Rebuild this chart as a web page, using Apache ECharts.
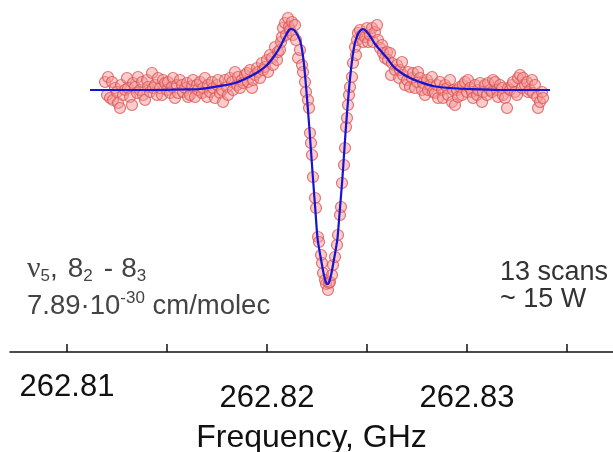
<!DOCTYPE html>
<html>
<head>
<meta charset="utf-8">
<script src="https://cdn.jsdelivr.net/npm/echarts@6/dist/echarts.min.js"></script>
<style>
html,body{margin:0;padding:0;background:#fff;}
#c{width:613px;height:452px;}
</style>
</head>
<body>
<div id="c"></div>
<script>
// Measured points: frequency (GHz) and intensity (arb. units, baseline = 0)
var measFreq = [
262.8119,262.812,262.81205,262.81215,262.81225,262.8123,262.8124,262.8125,262.81255,262.81265,
262.8127,262.8128,262.8129,262.813,262.81305,262.81315,262.81325,262.8133,262.8134,262.8135,
262.81355,262.81365,262.81375,262.8138,262.8139,262.814,262.81405,262.81415,262.81425,262.8143,
262.8144,262.8145,262.81455,262.81465,262.81475,262.8148,262.8149,262.815,262.81505,262.81515,
262.81525,262.8153,262.8154,262.8155,262.81555,262.81565,262.81575,262.8158,262.8159,262.816,
262.81605,262.81615,262.81625,262.8163,262.8164,262.8165,262.81655,262.81665,262.81675,262.8168,
262.8169,262.817,262.81705,262.81715,262.81725,262.8173,262.8174,262.8175,262.81755,262.81765,
262.81775,262.8178,262.8179,262.818,262.81805,262.81815,262.81825,262.8183,262.8184,262.8185,
262.81855,262.81865,262.81875,262.8188,262.8189,262.819,262.81905,262.81915,262.81925,262.8193,
262.8194,262.8195,262.81955,262.81965,262.81975,262.8198,262.8199,262.82,262.82005,262.82015,
262.82025,262.8203,262.8204,262.8205,262.82055,262.82065,262.8207,262.82075,262.8208,262.8209,
262.82095,262.82105,262.8211,262.82115,262.82125,262.8213,262.8214,262.82145,262.82155,262.82165,
262.82175,262.8218,262.8219,262.82195,262.82205,262.8221,262.82215,262.8222,262.82225,262.8223,
262.8224,262.82245,262.82255,262.8226,262.8227,262.82275,262.8228,262.8229,262.82295,262.82305,
262.8231,262.82315,262.82325,262.8233,262.8234,262.8235,262.82355,262.82365,262.8237,262.82375,
262.82385,262.8239,262.82395,262.824,262.82405,262.8241,262.82415,262.82425,262.8243,262.8244,
262.82445,262.8245,262.82455,262.82465,262.82475,262.8248,262.8249,262.825,262.82505,262.82515,
262.82525,262.8253,262.8254,262.8255,262.82555,262.82565,262.82575,262.8258,262.8259,262.826,
262.82605,262.82615,262.8262,262.82625,262.8264,262.8265,262.8266,262.82665,262.82675,262.8268,
262.8269,262.827,262.82705,262.82715,262.82725,262.8273,262.8274,262.8275,262.82755,262.82765,
262.82775,262.8278,262.8279,262.828,262.82805,262.82815,262.82825,262.8283,262.8284,262.8285,
262.82855,262.82865,262.82875,262.8288,262.8289,262.829,262.82905,262.82915,262.82925,262.8293,
262.8294,262.8295,262.82955,262.82965,262.82975,262.8298,262.8299,262.83,262.83005,262.83015,
262.83025,262.8303,262.8304,262.8305,262.83055,262.83065,262.83075,262.8308,262.8309,262.831,
262.83105,262.83115,262.83125,262.8313,262.8314,262.8315,262.83155,262.83165,262.83175,262.8318,
262.8319,262.832,262.83205,262.83215,262.83225,262.8323,262.8324,262.8325,262.83255,262.83265,
262.83275,262.8328,262.8329,262.833,262.83305,262.83315,262.83325,262.8333,262.8334,262.8335,
262.83355,262.83365,262.83375,262.8338
];
var measInt = [
8,-5,13,-8,8,-10,2,-2,-13,-18,
5,-5,0,12,2,-7,-15,7,3,-3,
13,0,8,-5,-10,10,3,-2,17,2,
5,-5,12,2,-5,10,7,0,8,-3,
3,12,-8,5,-3,10,5,-2,2,7,
-7,-5,4,10,-7,5,0,8,-3,2,
12,-7,5,-2,8,2,-8,5,10,-3,
0,-12,10,3,-5,12,8,0,18,5,
13,2,10,7,15,17,8,20,2,10,
15,22,18,12,27,20,23,30,18,35,
32,25,43,30,38,40,48,53,62,67,
55,72,63,60,68,55,65,50,32,40,
25,18,8,-2,-10,-18,-43,-53,-65,-87,
-108,-118,-147,-152,-165,-173,-183,-190,-194,-200,
-193,-192,-185,-175,-167,-155,-145,-125,-117,-93,
-75,-58,-37,-28,-15,-5,3,13,27,43,
35,50,57,60,55,48,53,62,48,55,
62,48,58,65,50,42,45,37,32,38,
30,37,15,27,20,25,12,20,28,15,
5,10,18,3,12,17,2,8,18,12,
0,7,-5,10,0,5,13,-2,-3,5,
-8,8,0,-8,5,2,-5,10,-12,0,
-15,0,-7,3,-5,5,8,-2,10,2,
-2,-8,5,-5,0,7,-12,-2,5,-5,
7,0,-2,10,8,0,-7,5,2,-5,
-8,-18,2,0,5,8,-2,-5,12,15,
2,12,5,8,-2,0,10,-3,5,-7,
-18,-12,-2,-8
];
// Fitted line profile
var fitFreq = [
262.81115,262.81415,262.81565,262.81665,262.81765,262.8184,262.819,262.81955,262.82,262.8204,
262.82065,262.8209,262.8211,262.8212,262.82135,262.821525,262.821675,262.821825,262.821975,262.822125,
262.822275,262.822425,262.822525,262.822625,262.822725,262.822825,262.822925,262.823025,262.823125,262.823225,
262.823325,262.823425,262.823525,262.823625,262.823775,262.823925,262.824075,262.824225,262.824375,262.824525,
262.82465,262.8248,262.82495,262.82515,262.8254,262.82565,262.826,262.8263,262.82665,262.82715,
262.82765,262.8283,262.82915,262.83,262.83165,262.83415
];
var fitInt = [
0,0,0.5,1,4,7,12,18,25,35,
43,53,60,61,60,55,48,30,-2,-40,
-82,-122,-148,-161,-172,-183,-191,-194,-191,-183,
-172,-161,-148,-124,-87,-43,-5,25,45,55,
59,61,59,54,46,40,32,24,18,12,
8,4,2,1,0,0
];
var tickValues = [262.81, 262.815, 262.82, 262.825, 262.83, 262.835];
var labelValues = [262.81, 262.82, 262.83];
var axisTitle = 'Frequency, GHz';

var measData = measFreq.map(function (f, i) { return [f, measInt[i]]; });
var fitData = fitFreq.map(function (f, i) { return [f, fitInt[i]]; });

var chart = echarts.init(document.getElementById('c'), null, {renderer: 'canvas'});
chart.setOption({
  animation: false,
  backgroundColor: '#ffffff',
  grid: {left: 10, right: 0, top: 10, bottom: 100, outerBoundsMode: 'none', containLabel: false},
  xAxis: {
    type: 'value',
    min: 262.80715,
    max: 262.8373,
    name: axisTitle,
    nameLocation: 'middle',
    nameGap: 70,
    nameTextStyle: {fontFamily: 'Liberation Sans', fontSize: 32, color: '#111', lineHeight: 32},
    axisLine: {show: true, onZero: false, lineStyle: {color: '#111', width: 1.5}},
    axisTick: {show: true, inside: true, length: 8, customValues: tickValues, lineStyle: {color: '#111', width: 1.5}},
    splitLine: {show: false},
    axisLabel: {
      customValues: labelValues,
      margin: 20,
      formatter: function (v) {
        var s = v.toFixed(2);
        return Math.abs(v - 262.81) < 1e-6 ? '{a|' + s + '}' : '{b|' + s + '}';
      },
      rich: {
        a: {fontFamily: 'Liberation Sans', fontSize: 31, color: '#111', lineHeight: 31},
        b: {fontFamily: 'Liberation Sans', fontSize: 31, color: '#111', lineHeight: 52}
      }
    }
  },
  yAxis: {type: 'value', show: false, min: -262, max: 80, splitLine: {show: false}},
  series: [
    {
      type: 'scatter',
      data: measData,
      symbol: 'circle',
      symbolSize: 11,
      itemStyle: {color: 'rgba(244,150,150,0.6)', borderColor: '#dd5555', borderWidth: 1.2},
      z: 2
    },
    {
      type: 'line',
      data: fitData,
      showSymbol: false,
      smooth: 0.3,
      lineStyle: {color: '#1414d2', width: 2.2},
      z: 3
    }
  ],
  graphic: [
    {
      type: 'text', left: 27, top: 254,
      style: {
        text: '{n|ν}{s|5}{m|,}{g|8}{s|2}{d|-}{m|8}{s|3}',
        fill: '#444',
        rich: {
          n: {fontFamily: 'Liberation Serif', fontSize: 30, lineHeight: 32, fill: '#444'},
          m: {fontFamily: 'Liberation Sans', fontSize: 28, lineHeight: 32, fill: '#444'},
          g: {fontFamily: 'Liberation Sans', fontSize: 28, lineHeight: 32, fill: '#444', padding: [0, 0, 0, 10]},
          d: {fontFamily: 'Liberation Sans', fontSize: 28, lineHeight: 32, fill: '#444', padding: [0, 8, 0, 11]},
          s: {fontFamily: 'Liberation Sans', fontSize: 17, lineHeight: 19, verticalAlign: 'bottom', fill: '#444'}
        }
      }
    },
    {
      type: 'text', left: 27, top: 290,
      style: {
        text: '{m|7.89·10}{p|-30}{m| cm/molec}',
        fill: '#444',
        rich: {
          m: {fontFamily: 'Liberation Sans', fontSize: 27.5, lineHeight: 32, fill: '#444'},
          p: {fontFamily: 'Liberation Sans', fontSize: 17, lineHeight: 16, verticalAlign: 'top', fill: '#444'}
        }
      }
    },
    {
      type: 'text', left: 500, top: 257,
      style: {text: '13 scans', font: '27px "Liberation Sans"', fill: '#333', lineHeight: 32}
    },
    {
      type: 'text', left: 500, top: 284,
      style: {text: '~ 15 W', font: '27px "Liberation Sans"', fill: '#333', lineHeight: 32}
    }
  ]
});
</script>
</body>
</html>
